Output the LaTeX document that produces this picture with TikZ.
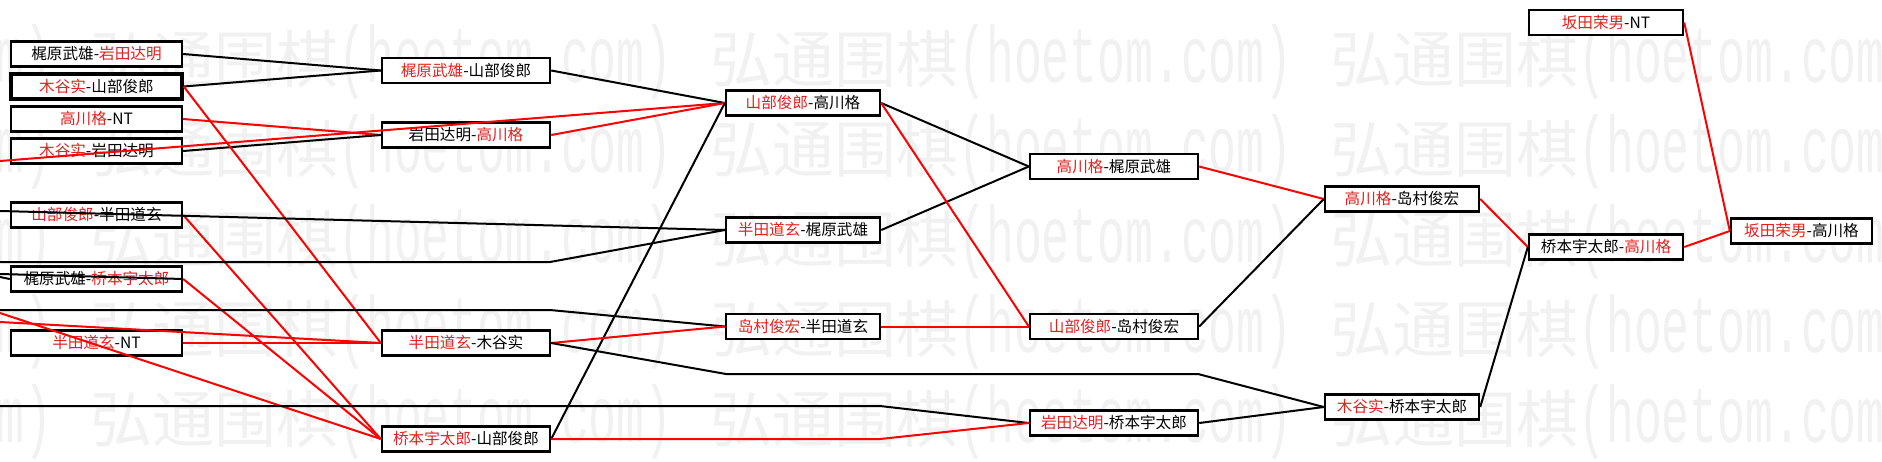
\documentclass[tikz,border=0pt]{standalone}
\usepackage{fontspec}
\newfontfamily\cjk{Noto Sans CJK SC}
\newfontfamily\wmono{Liberation Mono}
\definecolor{wmc}{gray}{0.945}
\definecolor{rtxt}{RGB}{228,32,32}
\definecolor{lred}{RGB}{255,0,0}
\newcommand\rn[1]{\textcolor{rtxt}{#1}}
\begin{document}
\begin{tikzpicture}[x=0.5pt,y=-0.5pt,
  box/.style={draw=black, line width=1.2pt, fill=white, minimum height=12.5pt, inner sep=0pt, font=\cjk\fontsize{7.8pt}{8pt}\selectfont},
  colA/.style={box, minimum width=85.5pt},
  colB/.style={box, minimum width=84pt},
  colC/.style={box, minimum width=77pt},
  colD/.style={box, minimum width=84pt},
  colE/.style={box, minimum width=77pt},
  colF/.style={box, minimum width=77pt},
  colG/.style={box, minimum width=70.5pt},
  bl/.style={line width=1pt, black, line join=round},
  rd/.style={line width=1pt, lred, line join=round},
  wm/.style={anchor=west, inner sep=0pt, text=wmc}
]
\useasboundingbox (0,0) rectangle (1882,461);
% watermark
\foreach \yy in {62,152,242,332,422}{
  \foreach \kk in {-530,90,710,1330}{
    \node[wm] (wm-\yy-\kk) at (\kk,\yy) {{\cjk\fontsize{31pt}{31pt}\selectfont 弘通围棋}\scalebox{0.58}[1]{\wmono\fontsize{40pt}{40pt}\selectfont (hoetom.com)}};
  }
}
% round 1
\node[colA] (A1) at (96.5,54) {梶原武雄-\rn{岩田达明}};
\node[colA, line width=1.7pt] (A2) at (96.5,86.5) {\rn{木谷实}-山部俊郎};
\node[colA] (A3) at (96.5,119) {\rn{高川格}-NT};
\node[colA] (A4) at (96.5,151) {\rn{木谷实}-岩田达明};
\node[colA] (A5) at (96.5,215) {\rn{山部俊郎}-半田道玄};
\node[colA] (A6) at (96.5,279) {梶原武雄-\rn{桥本宇太郎}};
\node[colA] (A7) at (96.5,343) {\rn{半田道玄}-NT};
% round 2
\node[colB] (B1) at (466,70.5) {\rn{梶原武雄}-山部俊郎};
\node[colB] (B2) at (466,135) {岩田达明-\rn{高川格}};
\node[colB] (B3) at (466,343) {\rn{半田道玄}-木谷实};
\node[colB] (B4) at (466,439) {\rn{桥本宇太郎}-山部俊郎};
% round 3
\node[colC] (C1) at (803,103) {\rn{山部俊郎}-高川格};
\node[colC] (C2) at (803,230) {\rn{半田道玄}-梶原武雄};
\node[colC] (C3) at (803,326.5) {\rn{岛村俊宏}-半田道玄};
% round 4
\node[colD] (D1) at (1114,166.5) {\rn{高川格}-梶原武雄};
\node[colD] (D2) at (1114,326.5) {\rn{山部俊郎}-岛村俊宏};
\node[colD] (D3) at (1114,423) {\rn{岩田达明}-桥本宇太郎};
% round 5
\node[colE] (E1) at (1402,199) {\rn{高川格}-岛村俊宏};
\node[colE] (E2) at (1402,407) {\rn{木谷实}-桥本宇太郎};
% round 6
\node[colF] (F0) at (1606,22.5) {\rn{坂田荣男}-NT};
\node[colF] (F1) at (1606,247) {桥本宇太郎-\rn{高川格}};
% round 7
\node[colG] (G1) at (1801.5,231) {\rn{坂田荣男}-高川格};
% free ends
\coordinate (oR1) at (0,322);
\coordinate (oR2) at (0,313);
\coordinate (oR3) at (0,161);
\coordinate (oB1) at (0,211);
\coordinate (oB2) at (0,262);
\coordinate (hB2) at (550,262);
\coordinate (oB3) at (0,310);
\coordinate (hB3) at (550,310);
\coordinate (oB4) at (0,406);
\coordinate (hB4) at (880,406);
\coordinate (oB5) at (0,274);
\coordinate (oB6) at (0,277);
\coordinate (v1) at (726,374);
\coordinate (v2) at (1198,374);
\coordinate (v3) at (880,439);
% connectors round 1 -> 2
\draw[bl] (A1.east) -- (B1.west);
\draw[bl] (A2.east) -- (B1.west);
\draw[rd] (A3.east) -- (B2.west);
\draw[bl] (A4.east) -- (B2.west);
\draw[rd] (A2.east) -- (B3.west);
\draw[rd] (A7.east) -- (B3.west);
\draw[rd] (oR1) -- (B3.west);
\draw[rd] (A5.east) -- (B4.west);
\draw[rd] (A6.east) -- (B4.west);
\draw[rd] (oR2) -- (B4.west);
\draw[bl] (oB5) -- (A6.east);
\draw[bl] (oB6) -- (A6.west);
% long lines from the left
\draw[rd] (oR3) -- (C1.west);
\draw[bl] (oB1) -- (C2.west);
\draw[bl] (oB2) -- (hB2) -- (C2.west);
\draw[bl] (oB3) -- (hB3) -- (C3.west);
\draw[bl] (oB4) -- (hB4) -- (D3.west);
% round 2 -> 3
\draw[bl] (B1.east) -- (C1.west);
\draw[rd] (B2.east) -- (C1.west);
\draw[bl] (B4.east) -- (C1.west);
\draw[rd] (B3.east) -- (C3.west);
\draw[bl] (B3.east) -- (v1) -- (v2) -- (E2.west);
\draw[rd] (B4.east) -- (v3) -- (D3.west);
% round 3 -> 4
\draw[bl] (C1.east) -- (D1.west);
\draw[bl] (C2.east) -- (D1.west);
\draw[rd] (C1.east) -- (D2.west);
\draw[rd] (C3.east) -- (D2.west);
% round 4 -> 5
\draw[rd] (D1.east) -- (E1.west);
\draw[bl] (D2.east) -- (E1.west);
\draw[bl] (D3.east) -- (E2.west);
% round 5 -> 6
\draw[rd] (E1.east) -- (F1.west);
\draw[bl] (E2.east) -- (F1.west);
% final
\draw[rd] (F1.east) -- (G1.west);
\draw[rd] (F0.east) -- (G1.west);
\end{tikzpicture}
\end{document}
